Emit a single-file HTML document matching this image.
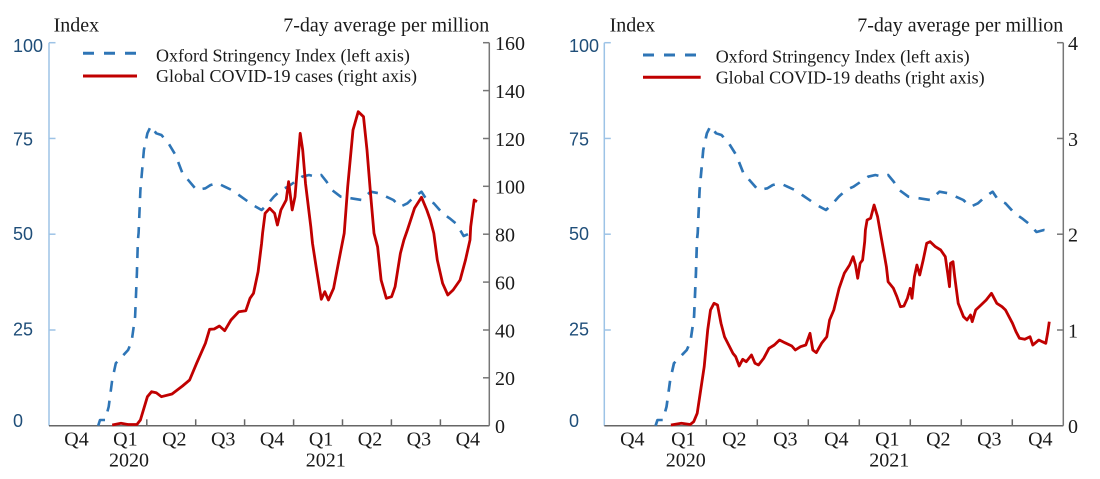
<!DOCTYPE html>
<html>
<head>
<meta charset="utf-8">
<style>
html,body{margin:0;padding:0;background:#fff;}
svg{display:block;}
.serif{font-family:"Liberation Serif","Times New Roman",serif;fill:#1a1a1a;}
.sans{font-family:"Liberation Sans",Arial,sans-serif;fill:#1f4e79;font-size:18px;}
</style>
</head>
<body>
<svg width="1100" height="479" viewBox="0 0 1100 479" xmlns="http://www.w3.org/2000/svg">
<rect x="0" y="0" width="1100" height="479" fill="#fff"/>

<!-- ================= LEFT CHART ================= -->
<g>
  <line x1="49" y1="42.7" x2="49" y2="425.7" stroke="#9dc3e6" stroke-width="1.5"/>
  <g stroke="#9dc3e6" stroke-width="1.5">
    <line x1="49" y1="42.7" x2="55.5" y2="42.7"/>
    <line x1="49" y1="138.45" x2="55.5" y2="138.45"/>
    <line x1="49" y1="234.2" x2="55.5" y2="234.2"/>
    <line x1="49" y1="330" x2="55.5" y2="330"/>
  </g>
  <line x1="49" y1="425.7" x2="489.3" y2="425.7" stroke="#666" stroke-width="1.5"/>
  <g stroke="#666" stroke-width="1.5">
    <line x1="146.8" y1="419.3" x2="146.8" y2="425.7"/>
    <line x1="195.7" y1="419.3" x2="195.7" y2="425.7"/>
    <line x1="244.6" y1="419.3" x2="244.6" y2="425.7"/>
    <line x1="293.6" y1="419.3" x2="293.6" y2="425.7"/>
    <line x1="342.5" y1="419.3" x2="342.5" y2="425.7"/>
    <line x1="391.4" y1="419.3" x2="391.4" y2="425.7"/>
    <line x1="440.4" y1="419.3" x2="440.4" y2="425.7"/>
  </g>
  <line x1="489.3" y1="42.7" x2="489.3" y2="425.7" stroke="#777" stroke-width="1.5"/>
  <g stroke="#777" stroke-width="1.5">
    <line x1="483" y1="42.7" x2="489.3" y2="42.7"/>
    <line x1="483" y1="90.6" x2="489.3" y2="90.6"/>
    <line x1="483" y1="138.5" x2="489.3" y2="138.5"/>
    <line x1="483" y1="186.3" x2="489.3" y2="186.3"/>
    <line x1="483" y1="234.2" x2="489.3" y2="234.2"/>
    <line x1="483" y1="282.1" x2="489.3" y2="282.1"/>
    <line x1="483" y1="330" x2="489.3" y2="330"/>
    <line x1="483" y1="377.8" x2="489.3" y2="377.8"/>
  </g>

  <text class="sans" x="13" y="52">100</text>
  <text class="sans" x="13" y="145.5">75</text>
  <text class="sans" x="13" y="240">50</text>
  <text class="sans" x="13" y="335.5">25</text>
  <text class="sans" x="13" y="427">0</text>

  <g class="serif" font-size="20">
    <text x="495" y="50">160</text>
    <text x="495" y="97.9">140</text>
    <text x="495" y="145.8">120</text>
    <text x="495" y="193.6">100</text>
    <text x="495" y="241.5">80</text>
    <text x="495" y="289.4">60</text>
    <text x="495" y="337.3">40</text>
    <text x="495" y="385.1">20</text>
    <text x="495" y="433">0</text>
  </g>

  <g class="serif" font-size="20" text-anchor="middle">
    <text x="76.5" y="445.5">Q4</text>
    <text x="125.4" y="445.5">Q1</text>
    <text x="174.3" y="445.5">Q2</text>
    <text x="223.2" y="445.5">Q3</text>
    <text x="272.1" y="445.5">Q4</text>
    <text x="321.1" y="445.5">Q1</text>
    <text x="370" y="445.5">Q2</text>
    <text x="418.9" y="445.5">Q3</text>
    <text x="467.8" y="445.5">Q4</text>
    <text x="129" y="466.5">2020</text>
    <text x="325.8" y="466.5">2021</text>
  </g>

  <text class="serif" font-size="20" x="53.6" y="31.7">Index</text>
  <text class="serif" font-size="20" x="489.3" y="31.7" text-anchor="end">7-day average per million</text>

  <line x1="83" y1="53.3" x2="137" y2="53.3" stroke="#2e75b6" stroke-width="3" stroke-dasharray="11 10"/>
  <line x1="83" y1="76" x2="137" y2="76" stroke="#c00000" stroke-width="3"/>
  <text class="serif" font-size="18" x="156" y="61.3">Oxford Stringency Index (left axis)</text>
  <text class="serif" font-size="18" x="156" y="82">Global COVID-19 cases (right axis)</text>

  <polyline fill="none" stroke="#2e75b6" stroke-width="2.6" stroke-dasharray="11 9" stroke-linejoin="round"
    points="98.2,425.7 100,420 105.2,420 108.7,406.7 112.2,380 115.8,363.3 121,357.7 128.1,350 131.6,341.7 135.1,316.7 136.9,273.3 137.9,240 138.6,233 140.4,190 143.9,150 147.4,133.3 150.9,126 156.2,133.3 161.4,135 168.5,143.3 175.5,155 182.5,173.3 189.6,181.7 196.6,190 205.4,188.3 210.6,185 217.7,183.3 224.7,186.7 231.7,190 238.8,195 245.8,200 252.8,205 261.6,210 266.9,205 273.9,196.7 280.9,190 288,186.7 295,181.7 302,176.7 309,175 316.1,176.7 321.3,175 326.6,181.7 331.9,190 340.7,196.7 351.2,198.3 361.7,200 370.5,191.7 379.3,193.3 386.3,196.7 393.4,200 400.4,206.7 407.4,203.3 414.5,196.7 421.5,191.7 426.8,200 433.8,203.3 442.6,213.3 449.6,218.3 456.6,224 463.6,236 470.7,233 476,231"/>
  <polyline fill="none" stroke="#c00000" stroke-width="2.8" stroke-linejoin="round"
    points="112.2,425 121,423.3 128.1,424.5 136.9,424.5 140.4,420 147.4,396.7 151.6,391.7 156.2,392.7 161.4,396.7 172,394 182.5,386 189.6,380 196.6,363.3 205.4,343.3 209.6,329.3 214.2,329 219.4,326 224.7,330.7 231,320 238.8,311.7 245.8,310.7 250,298.3 253.5,293.3 258.1,271.7 261.6,243.3 262.6,233 265.1,213.3 269.7,208.3 274.6,213.3 277.4,225 280.9,210 286.2,200 288.6,181.7 292.2,210 295,196.7 300.2,133.3 302.7,150 305.5,183.3 310.8,226.7 312.5,243.3 316.1,266.7 321.3,299.3 324.8,291.7 328.4,300 333.6,288.3 339,260 344.2,233.3 347.7,186.7 353,130 358.2,111.7 363.5,116.7 367,150 370.5,193.3 374,233.3 377.6,246.7 381.1,280 386.3,298.3 391.6,296.7 395.1,286.7 400.4,253.3 403.9,240 407.4,230 414.5,208.3 421.5,197.3 426.8,210 430.3,220 433.8,233.3 437.3,260 442.6,283.3 447.8,295 453.1,290 460.1,280 465.5,260 470,240 470.7,226.7 474.2,200 477,201.7"/>
</g>

<!-- ================= RIGHT CHART ================= -->
<g>
  <line x1="604.3" y1="42.7" x2="604.3" y2="425.7" stroke="#9dc3e6" stroke-width="1.5"/>
  <g stroke="#9dc3e6" stroke-width="1.5">
    <line x1="604.3" y1="42.7" x2="610.8" y2="42.7"/>
    <line x1="604.3" y1="138.45" x2="610.8" y2="138.45"/>
    <line x1="604.3" y1="234.2" x2="610.8" y2="234.2"/>
    <line x1="604.3" y1="330" x2="610.8" y2="330"/>
  </g>
  <line x1="604.3" y1="425.7" x2="1063.3" y2="425.7" stroke="#666" stroke-width="1.5"/>
  <g stroke="#666" stroke-width="1.5">
    <line x1="706.3" y1="419.3" x2="706.3" y2="425.7"/>
    <line x1="757.3" y1="419.3" x2="757.3" y2="425.7"/>
    <line x1="808.3" y1="419.3" x2="808.3" y2="425.7"/>
    <line x1="859.3" y1="419.3" x2="859.3" y2="425.7"/>
    <line x1="910.3" y1="419.3" x2="910.3" y2="425.7"/>
    <line x1="961.3" y1="419.3" x2="961.3" y2="425.7"/>
    <line x1="1012.3" y1="419.3" x2="1012.3" y2="425.7"/>
  </g>
  <line x1="1063.3" y1="42.7" x2="1063.3" y2="425.7" stroke="#777" stroke-width="1.5"/>
  <g stroke="#777" stroke-width="1.5">
    <line x1="1057" y1="42.7" x2="1063.3" y2="42.7"/>
    <line x1="1057" y1="138.45" x2="1063.3" y2="138.45"/>
    <line x1="1057" y1="234.2" x2="1063.3" y2="234.2"/>
    <line x1="1057" y1="330" x2="1063.3" y2="330"/>
  </g>

  <text class="sans" x="569" y="52">100</text>
  <text class="sans" x="569" y="145.5">75</text>
  <text class="sans" x="569" y="240">50</text>
  <text class="sans" x="569" y="335.5">25</text>
  <text class="sans" x="569" y="427">0</text>

  <g class="serif" font-size="20">
    <text x="1068" y="50.2">4</text>
    <text x="1068" y="146">3</text>
    <text x="1068" y="241.7">2</text>
    <text x="1068" y="337.5">1</text>
    <text x="1068" y="433.2">0</text>
  </g>

  <g class="serif" font-size="20" text-anchor="middle">
    <text x="632.3" y="445.5">Q4</text>
    <text x="683.3" y="445.5">Q1</text>
    <text x="734.3" y="445.5">Q2</text>
    <text x="785.3" y="445.5">Q3</text>
    <text x="836.3" y="445.5">Q4</text>
    <text x="887.3" y="445.5">Q1</text>
    <text x="938.3" y="445.5">Q2</text>
    <text x="989.3" y="445.5">Q3</text>
    <text x="1040.3" y="445.5">Q4</text>
    <text x="685.8" y="466.5">2020</text>
    <text x="889.3" y="466.5">2021</text>
  </g>

  <text class="serif" font-size="20" x="609.6" y="31.7">Index</text>
  <text class="serif" font-size="20" x="1063.3" y="31.7" text-anchor="end">7-day average per million</text>

  <line x1="643" y1="55" x2="697.2" y2="55" stroke="#2e75b6" stroke-width="3" stroke-dasharray="11 10"/>
  <line x1="643" y1="77.3" x2="700.7" y2="77.3" stroke="#c00000" stroke-width="3"/>
  <text class="serif" font-size="18" x="715.7" y="62.5">Oxford Stringency Index (left axis)</text>
  <text class="serif" font-size="18" x="715.7" y="83.5">Global COVID-19 deaths (right axis)</text>

  <g transform="translate(553.217,0) scale(1.04252,1)">
    <polyline fill="none" stroke="#2e75b6" stroke-width="2.6" stroke-dasharray="11 9" stroke-linejoin="round"
    points="98.2,425.7 100,420 105.2,420 108.7,406.7 112.2,380 115.8,363.3 121,357.7 128.1,350 131.6,341.7 135.1,316.7 136.9,273.3 137.9,240 138.6,233 140.4,190 143.9,150 147.4,133.3 150.9,126 156.2,133.3 161.4,135 168.5,143.3 175.5,155 182.5,173.3 189.6,181.7 196.6,190 205.4,188.3 210.6,185 217.7,183.3 224.7,186.7 231.7,190 238.8,195 245.8,200 252.8,205 261.6,210 266.9,205 273.9,196.7 280.9,190 288,186.7 295,181.7 302,176.7 309,175 316.1,176.7 321.3,175 326.6,181.7 331.9,190 340.7,196.7 351.2,198.3 361.7,200 370.5,191.7 379.3,193.3 386.3,196.7 393.4,200 400.4,206.7 407.4,203.3 414.5,196.7 421.5,191.7 426.8,200 433.8,203.3 442.6,213.3 449.6,218.3 456.6,224 463.6,232 470.7,230 476,231"/>
  </g>
  <polyline fill="none" stroke="#c00000" stroke-width="2.8" stroke-linejoin="round"
    points="670.9,425 681.4,423.3 690.2,424.5 693.7,421.7 697.2,413.3 700.7,390 704.2,366.7 707.7,330 710.5,310 714,303.3 717.5,305 721,323.3 724.5,336.7 728.7,345 732.9,353.3 735.7,356.7 739.2,366 742.7,359.3 746.2,361.7 751.5,355 755,363.3 758.5,365 763.7,358.3 769,348.3 774.3,345 779.5,340 784.8,342.7 791.8,346 795.3,350 800.5,346.7 805.8,345 810,333.3 812.8,350 816.3,352.7 821.6,343.3 826.8,336.7 829.6,320 833.8,310 839.1,288.3 844.3,273.3 849.6,265 853.1,256.7 855.5,265 857.7,278.3 860.1,263.3 862.6,260 864.7,241.7 865.4,230 867.1,220 870.6,218.3 874.1,205 877.6,216.7 881.1,236.7 882.9,246.7 886.4,266.7 888.1,281.7 893.4,288.3 896.9,296.7 900.4,306.7 903.9,306 907.4,298.3 910.2,288.3 912,298.3 914.4,276.7 916.9,265 919.7,275 923.2,260 926.7,243.3 930.2,241.7 935.4,246.7 940.7,250 945.3,256.7 947.7,273.3 949.5,286.7 950.5,263.3 953,261.7 954.7,276.7 958.2,303.3 963.5,316.7 967,320 970.5,315 972.2,321.7 975.7,310 981,305 986.2,300 991.5,293.3 996.8,303.3 1002,306.7 1005.5,310 1012.5,323.3 1016,331.7 1019.5,338.3 1024.8,339.3 1030,336.7 1032.8,345 1038.8,340 1042.3,341.7 1045.8,343.3 1047.6,333.3 1049.3,321.7"/>
</g>
</svg>
</body>
</html>
